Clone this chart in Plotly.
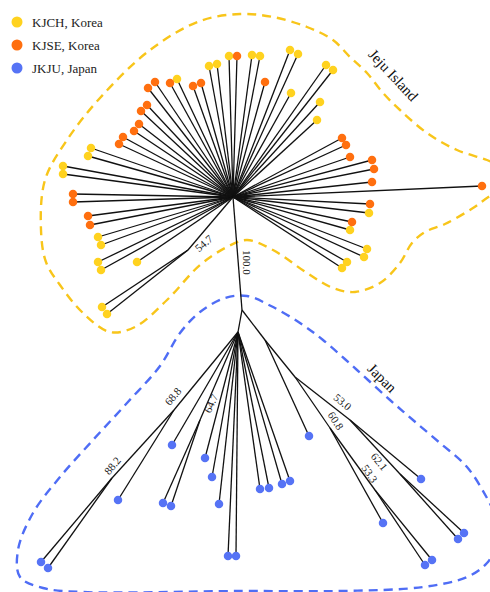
import plotly.graph_objects as go

# ---- Tree topology: internal nodes (name, x, y, parent) ----
node_names  = ["H", "J1", "D", "A", "G", "B1", "C", "P", "K", "E", "E2", "F", "F2"]
node_x      = [233, 188, 242, 238, 265, 174, 112, 200, 295, 350, 400, 330, 375]
node_y      = [197, 250, 310, 332, 340, 410, 478, 420, 377, 420, 474, 428, 490]
node_parent = [None, "H", "H", "D", "D", "A", "B1", "A", "G", "K", "E", "K", "F"]

# ---- Tips: position, parent node and population ----
tip_x = [73, 73, 88, 90, 98, 101, 98, 101, 137, 102, 107,
         63, 63, 91, 88, 119, 123, 134, 139, 141, 147, 148, 155, 170, 177,
         193, 201, 209, 217, 229, 237, 252, 260, 265, 290, 298, 291, 326, 333,
         320, 317, 342, 346, 350, 372, 374, 372, 482, 370, 369, 352, 350,
         367, 364, 347, 342,
         118, 41, 48, 172, 163, 171, 205, 212, 219, 228, 236,
         260, 269, 282, 290, 309, 421, 458, 464, 383, 425, 432]
tip_y = [194, 202, 216, 225, 237, 245, 262, 270, 262, 307, 314,
         166, 174, 148, 156, 144, 137, 131, 124, 111, 105, 88, 82, 83, 79,
         86, 83, 66, 64, 56, 56, 55, 56, 82, 50, 54, 93, 65, 70,
         102, 120, 138, 145, 157, 160, 169, 182, 186, 204, 213, 222, 230,
         249, 257, 262, 268,
         500, 562, 568, 445, 503, 506, 458, 477, 504, 556, 556,
         489, 488, 484, 481, 436, 479, 539, 533, 523, 565, 560]
tip_parent = (["H"] * 9 + ["J1", "J1"] + ["H"] * 45
              + ["B1", "C", "C", "A", "P", "P", "A", "A", "A", "A", "A",
                 "A", "A", "A", "A", "G", "E", "E2", "E2", "F", "F2", "F2"])
tip_pop = (["KJSE"] * 4 + ["KJCH"] * 7
           + ["KJCH"] * 4 + ["KJSE"] * 9 + ["KJCH"]
           + ["KJSE", "KJSE", "KJCH", "KJCH", "KJCH", "KJSE", "KJCH", "KJCH",
              "KJSE", "KJCH", "KJCH", "KJCH", "KJCH", "KJCH", "KJCH", "KJCH"]
           + ["KJSE"] * 7 + ["KJSE", "KJCH", "KJSE", "KJCH", "KJCH", "KJCH",
                             "KJCH", "KJCH"]
           + ["JKJU"] * 22)

# ---- Bootstrap support values on branches ----
boot_text  = ["54.7", "100.0", "68.8", "88.2", "64.7", "53.0", "60.8", "62.1", "53.3"]
boot_x     = [204, 247, 173, 112, 211, 343, 336, 379, 370]
boot_y     = [243, 262, 396, 466, 403, 402, 421, 461, 474]
boot_angle = [-41, 90, -50, -50, -66, 40, 57, 50, 55]

# ---- Population legend ----
pop_codes  = ["KJCH", "KJSE", "JKJU"]
pop_labels = ["KJCH, Korea", "KJSE, Korea", "JKJU, Japan"]
pop_colors = ["#FFD21F", "#FF6F0F", "#5673F5"]

# ---- Region outlines ----
jeju_outline_x = [505, 487, 457, 427, 400, 383, 367, 350, 333, 307, 273, 240, 200,
                  150, 100, 67, 45, 41, 46, 60, 83, 110, 135, 167, 200, 227, 247,
                  273, 307, 333, 355, 380, 400, 412, 425, 445, 473, 490, 505]
jeju_outline_y = [168, 160, 150, 133, 110, 93, 73, 57, 40, 27, 17, 14, 21,
                  50, 98, 140, 180, 230, 262, 285, 313, 332, 327, 300, 265, 247, 240,
                  250, 273, 288, 292, 283, 263, 243, 232, 224, 208, 196, 188]
japan_outline_x = [500, 487, 467, 440, 413, 390, 357, 323, 300, 271, 247, 225, 200,
                   180, 160, 127, 93, 60, 33, 18, 20, 43, 83, 240, 340, 423, 467,
                   487, 500]
japan_outline_y = [525, 498, 467, 443, 420, 400, 370, 340, 323, 306, 296, 298, 312,
                   333, 366, 403, 440, 477, 513, 550, 577, 588, 592, 591, 591, 587,
                   577, 563, 540]

SERIF = "Liberation Serif, Times New Roman, serif"

pos = {n: (x, y) for n, x, y in zip(node_names, node_x, node_y)}

# Branch segments
ex, ey = [], []
for n, p in zip(node_names, node_parent):
    if p is None:
        continue
    ex += [pos[p][0], pos[n][0], None]
    ey += [pos[p][1], pos[n][1], None]
for x, y, p in zip(tip_x, tip_y, tip_parent):
    ex += [pos[p][0], x, None]
    ey += [pos[p][1], y, None]

fig = go.Figure()

fig.add_trace(go.Scatter(x=jeju_outline_x, y=jeju_outline_y, mode="lines",
                         line=dict(color="#F8C51A", width=2.4, dash="9px,6px",
                                   shape="spline", smoothing=1.0),
                         hoverinfo="skip", showlegend=False))
fig.add_trace(go.Scatter(x=japan_outline_x, y=japan_outline_y, mode="lines",
                         line=dict(color="#4F6DF5", width=2.4, dash="9px,6px",
                                   shape="spline", smoothing=1.0),
                         hoverinfo="skip", showlegend=False))

fig.add_trace(go.Scatter(x=ex, y=ey, mode="lines",
                         line=dict(color="#111111", width=1.3),
                         hoverinfo="skip", showlegend=False))

for code, label, color in zip(pop_codes, pop_labels, pop_colors):
    xs = [x for x, c in zip(tip_x, tip_pop) if c == code]
    ys = [y for y, c in zip(tip_y, tip_pop) if c == code]
    fig.add_trace(go.Scatter(x=xs, y=ys, mode="markers", name=label,
                             marker=dict(color=color, size=8.5, line=dict(width=0)),
                             showlegend=False))

# Legend drawn as markers with text
leg_y = [22, 45, 68]
fig.add_trace(go.Scatter(x=[17, 17, 17], y=leg_y, mode="markers",
                         marker=dict(color=pop_colors, size=11, line=dict(width=0)),
                         hoverinfo="skip", showlegend=False))
for lbl, y in zip(pop_labels, leg_y):
    fig.add_annotation(x=30, y=y, text=lbl, showarrow=False, xanchor="left",
                       yanchor="middle", font=dict(family=SERIF, size=13, color="#222"))

for t, x, y, a in zip(boot_text, boot_x, boot_y, boot_angle):
    fig.add_annotation(x=x, y=y, text=t, showarrow=False, textangle=a,
                       font=dict(family=SERIF, size=11, color="#222"))

fig.add_annotation(x=393, y=75, text="Jeju Island", showarrow=False, textangle=47,
                   font=dict(family=SERIF, size=15, color="#111"))
fig.add_annotation(x=382, y=378, text="Japan", showarrow=False, textangle=45,
                   font=dict(family=SERIF, size=15, color="#111"))

fig.update_layout(
    width=490, height=592,
    margin=dict(l=0, r=0, t=0, b=0),
    paper_bgcolor="white", plot_bgcolor="white",
    xaxis=dict(range=[0, 490], visible=False, fixedrange=True),
    yaxis=dict(range=[592, 0], visible=False, fixedrange=True),
    showlegend=False,
)

fig.write_html("out.html")
